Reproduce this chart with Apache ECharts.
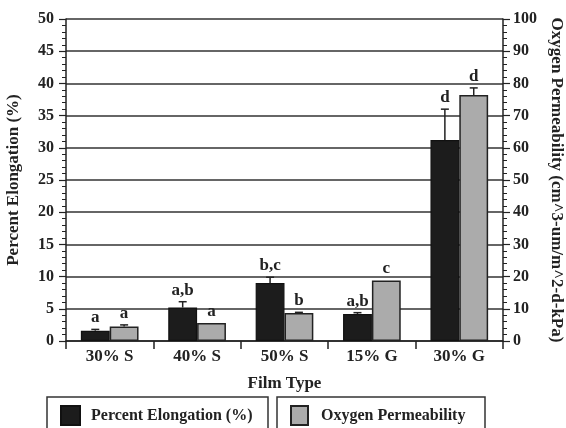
<!DOCTYPE html>
<html><head><meta charset="utf-8">
<script src="https://cdn.jsdelivr.net/npm/echarts@6/dist/echarts.min.js"></script>
<style>html,body{margin:0;padding:0;background:#fff}#c{width:566px;height:428px}</style>
</head><body><div id="c"></div>
<script>
const categories = ['30% S', '40% S', '50% S', '15% G', '30% G'];
const elongation = [1.6, 5.2, 9.0, 4.2, 31.2];
const elongationErrTop = [1.8, 6.1, 9.9, 4.4, 36.0];
const elongationLetters = ['a', 'a,b', 'b,c', 'a,b', 'd'];
const oxygen = [4.5, 5.6, 8.7, 18.8, 76.4];
const oxygenErrTop = [5.0, 5.6, 8.9, 18.8, 78.6];
const oxygenLetters = ['a', 'a', 'b', 'c', 'd'];
const leftTicks = [0, 50, 5];
const rightTicks = [0, 100, 10];

const FONT = 'Liberation Serif';
const BAR_W = 0.33;

function errSeries(name, tops, bases, letters, off, yIdx) {
  return {
    type: 'custom', name: name + ' err', yAxisIndex: yIdx, z: 5, silent: true,
    data: tops.map((t, i) => [i, t, bases[i]]),
    renderItem: function (params, api) {
      const i = api.value(0), top = api.value(1), base = api.value(2);
      const bw = api.size([1, 0])[0] * BAR_W;
      const c = api.coord([i, top]);
      const b = api.coord([i, base]);
      const x = c[0] + off * bw / 2;
      const children = [];
      if (top > base) {
        children.push({ type: 'line', shape: { x1: x, y1: b[1], x2: x, y2: c[1] }, style: { stroke: '#222', lineWidth: 1.5 } });
        children.push({ type: 'line', shape: { x1: x - 4, y1: c[1], x2: x + 4, y2: c[1] }, style: { stroke: '#222', lineWidth: 1.5 } });
      }
      children.push({ type: 'text', style: { x: x, y: c[1] - 3, text: letters[params.dataIndex], font: 'bold 17px "' + FONT + '"', fill: '#222', textAlign: 'center', textVerticalAlign: 'bottom' } });
      return { type: 'group', children: children };
    }
  };
}

const chart = echarts.init(document.getElementById('c'), null, { renderer: 'canvas' });
chart.setOption({
  backgroundColor: '#fff',
  animation: false,
  grid: { left: 66, right: 63, top: 19, bottom: 87, outerBoundsMode: 'none', containLabel: false },
  xAxis: {
    type: 'category', data: categories,
    name: 'Film Type', nameLocation: 'middle', nameGap: 34,
    nameTextStyle: { fontFamily: FONT, fontWeight: 'bold', fontSize: 17, color: '#222' },
    axisLine: { lineStyle: { color: '#222', width: 1.5 } },
    axisTick: { show: true, length: 8, lineStyle: { color: '#222', width: 1.5 } },
    axisLabel: { fontFamily: FONT, fontWeight: 'bold', fontSize: 17, color: '#222', margin: 7 }
  },
  yAxis: [{
    type: 'value', min: leftTicks[0], max: leftTicks[1], interval: leftTicks[2], position: 'left',
    name: 'Percent Elongation (%)', nameLocation: 'middle', nameGap: 44, nameRotate: 90,
    nameTextStyle: { fontFamily: FONT, fontWeight: 'bold', fontSize: 17, color: '#222' },
    axisLine: { show: true, lineStyle: { color: '#222', width: 1.5 } },
    axisTick: { show: true, length: 7, lineStyle: { color: '#222', width: 1.2 } },
    minorTick: { show: true, splitNumber: 5, length: 4, lineStyle: { color: '#222', width: 1 } },
    axisLabel: { fontFamily: FONT, fontWeight: 'bold', fontSize: 16, color: '#222', margin: 12 },
    splitLine: { show: true, lineStyle: { color: '#333', width: 1.5 } }
  }, {
    type: 'value', min: rightTicks[0], max: rightTicks[1], interval: rightTicks[2], position: 'right',
    name: 'Oxygen Permeability (cm^3-um/m^2-d-kPa)', nameLocation: 'middle', nameGap: 44, nameRotate: -90,
    nameTextStyle: { fontFamily: FONT, fontWeight: 'bold', fontSize: 17, color: '#222' },
    axisLine: { show: true, lineStyle: { color: '#222', width: 1.5 } },
    axisTick: { show: true, length: 7, lineStyle: { color: '#222', width: 1.2 } },
    minorTick: { show: true, splitNumber: 5, length: 4, lineStyle: { color: '#222', width: 1 } },
    axisLabel: { fontFamily: FONT, fontWeight: 'bold', fontSize: 16, color: '#222', margin: 10 },
    splitLine: { show: false }
  }],
  legend: [{
    data: [{ name: 'Percent Elongation (%)', icon: 'rect' }], left: 60, top: 405, padding: 0,
    itemWidth: 19, itemHeight: 19,
    textStyle: { fontFamily: FONT, fontWeight: 'bold', fontSize: 16, color: '#222', padding: [0, 0, 0, 6] }
  }, {
    data: [{ name: 'Oxygen Permeability', icon: 'rect' }], left: 290, top: 405, padding: 0,
    itemWidth: 17, itemHeight: 19,
    textStyle: { fontFamily: FONT, fontWeight: 'bold', fontSize: 16, color: '#222', padding: [0, 0, 0, 8] }
  }],
  graphic: [
    { type: 'rect', shape: { x: 47, y: 397, width: 221, height: 45 }, style: { fill: 'none', stroke: '#333', lineWidth: 1.5 } },
    { type: 'rect', shape: { x: 277, y: 397, width: 208, height: 45 }, style: { fill: 'none', stroke: '#333', lineWidth: 1.5 } }
  ],
  series: [{
    name: 'Percent Elongation (%)', type: 'bar', yAxisIndex: 0, data: elongation,
    barWidth: (BAR_W * 100) + '%', barGap: '0%', z: 3,
    itemStyle: { color: '#1c1c1c', borderColor: '#111', borderWidth: 1.2 }
  }, {
    name: 'Oxygen Permeability', type: 'bar', yAxisIndex: 1, data: oxygen,
    barWidth: (BAR_W * 100) + '%', barGap: '0%', z: 3,
    itemStyle: { color: '#ababab', borderColor: '#222', borderWidth: 1.5 }
  },
  errSeries('e', elongationErrTop, elongation, elongationLetters, -1, 0),
  errSeries('o', oxygenErrTop, oxygen, oxygenLetters, 1, 1)
  ]
});
</script></body></html>
